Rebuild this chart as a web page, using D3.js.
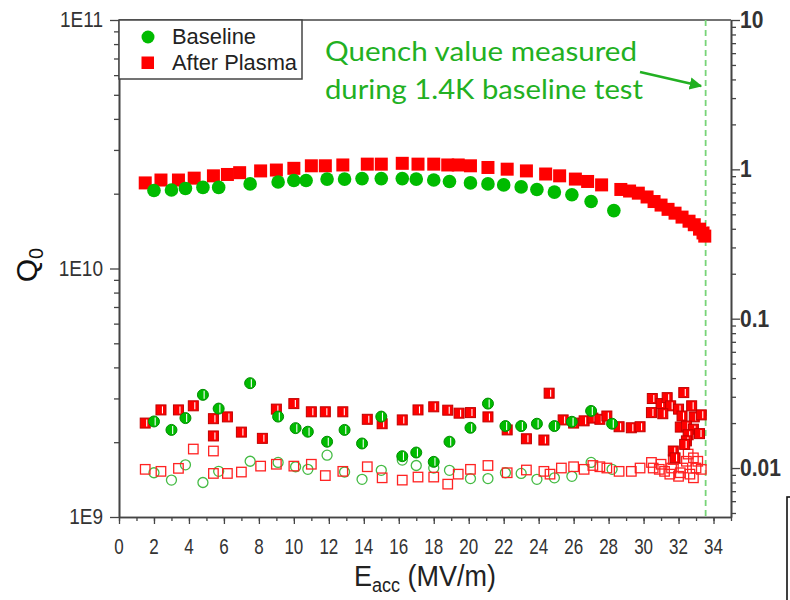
<!DOCTYPE html>
<html><head><meta charset="utf-8">
<script src="https://cdn.jsdelivr.net/npm/d3@7"></script>
<style>body{margin:0;background:#fff} svg{display:block}</style>
</head><body>
<svg id="c" width="790" height="600"></svg>
<script>
// ---- Data (E_acc in MV/m) ----
// Q0 (left axis)
const baselineQ = [[2.0,2.06e10],[3.0,2.07e10],[3.8,2.10e10],[4.8,2.12e10],[5.7,2.12e10],[7.5,2.19e10],[9.1,2.23e10],[10.0,2.26e10],[10.7,2.26e10],[11.9,2.29e10],[12.9,2.29e10],[13.9,2.30e10],[15.0,2.30e10],[16.2,2.30e10],[17.0,2.29e10],[18.0,2.27e10],[18.9,2.24e10],[20.1,2.21e10],[21.1,2.19e10],[22.0,2.17e10],[23.0,2.13e10],[23.9,2.08e10],[24.9,2.03e10],[25.9,1.98e10],[27.0,1.86e10],[28.3,1.71e10]];
const plasmaQ = [[1.5,2.21e10],[2.4,2.27e10],[3.4,2.27e10],[4.3,2.31e10],[5.4,2.36e10],[6.2,2.39e10],[6.9,2.43e10],[8.1,2.47e10],[9.0,2.49e10],[10.0,2.53e10],[11.0,2.59e10],[11.8,2.59e10],[12.8,2.61e10],[14.2,2.63e10],[15.0,2.63e10],[16.2,2.65e10],[17.1,2.63e10],[18.0,2.63e10],[18.8,2.61e10],[19.4,2.61e10],[20.1,2.59e10],[21.1,2.55e10],[22.2,2.51e10],[23.3,2.47e10],[24.4,2.40e10],[25.2,2.36e10],[26.1,2.29e10],[26.8,2.24e10],[27.6,2.17e10],[28.7,2.08e10],[29.2,2.05e10],[29.7,2.01e10],[30.2,1.94e10],[30.6,1.86e10],[31.0,1.80e10],[31.4,1.73e10],[31.8,1.67e10],[32.2,1.61e10],[32.6,1.55e10],[32.9,1.50e10],[33.2,1.44e10],[33.4,1.39e10],[33.5,1.35e10]];
// Right axis series
const baselineHalf = [[2.0,0.0205],[3.0,0.0180],[3.8,0.0216],[4.8,0.0309],[5.7,0.0250],[7.5,0.0370],[9.1,0.0221],[10.1,0.0185],[10.8,0.0175],[11.9,0.0150],[12.9,0.0180],[13.9,0.0146],[15.0,0.0221],[16.2,0.0120],[17.0,0.0127],[18.0,0.0110],[18.9,0.0150],[20.1,0.0186],[21.1,0.0270],[22.1,0.0191],[23.0,0.0191],[23.9,0.0198],[24.9,0.0191],[25.9,0.0204],[27.0,0.0241],[28.2,0.0198]];
const plasmaHalf = [[1.5,0.0200],[2.4,0.0245],[3.4,0.0245],[4.25,0.0261],[5.4,0.0214],[5.4,0.0164],[6.2,0.0220],[7.0,0.0174],[8.2,0.0158],[9.0,0.0248],[10.0,0.0270],[11.0,0.0238],[11.8,0.0238],[12.8,0.0238],[14.2,0.0212],[15.05,0.0198],[16.2,0.0210],[17.1,0.0245],[18.0,0.0257],[18.8,0.0244],[19.45,0.0233],[20.1,0.0235],[21.1,0.0220],[22.2,0.0180],[23.3,0.0157],[24.3,0.0154],[24.6,0.0317],[25.4,0.0210],[26.0,0.0200],[26.6,0.0207],[27.1,0.0216],[27.5,0.0212],[27.9,0.0223],[28.6,0.0189],[29.3,0.0186],[29.8,0.0189],[30.5,0.0292],[31.0,0.0270],[31.35,0.0296],[31.55,0.0261],[32.3,0.0320],[32.0,0.0248],[32.75,0.0261],[30.45,0.0235],[31.1,0.0231],[32.2,0.0223],[32.9,0.0220],[33.3,0.0227],[32.1,0.0188],[32.45,0.0191],[32.85,0.0182],[33.2,0.0170],[32.55,0.0167],[32.45,0.0152],[32.35,0.0144],[31.7,0.0130],[31.8,0.0117]];
const baselineOpen = [[2.0,0.0093],[3.0,0.0083],[3.8,0.0105],[4.8,0.0080],[5.7,0.0095],[7.5,0.0111],[9.1,0.0109],[10.1,0.0102],[10.8,0.0098],[11.9,0.0122],[12.9,0.0094],[13.9,0.0084],[15.0,0.00965],[16.2,0.0113],[17.0,0.0104],[18.0,0.0100],[18.9,0.00965],[20.1,0.0085],[21.1,0.0085],[22.1,0.0093],[23.0,0.0092],[23.9,0.0084],[24.9,0.0086],[25.9,0.0088],[27.0,0.0109],[28.2,0.0098]];
const plasmaOpen = [[1.5,0.0098],[2.4,0.0095],[3.4,0.00995],[4.25,0.0134],[5.4,0.0130],[5.4,0.0092],[6.2,0.0092],[7.0,0.0094],[8.1,0.0103],[9.0,0.0106],[10.0,0.0103],[11.0,0.0106],[11.8,0.0089],[12.8,0.0095],[14.2,0.0102],[15.05,0.0086],[16.2,0.0083],[17.1,0.0087],[18.0,0.0087],[18.8,0.0078],[19.4,0.0091],[20.1,0.0098],[21.1,0.0104],[22.2,0.0093],[23.3,0.0097],[24.3,0.0095],[24.65,0.0091],[25.3,0.0100],[26.0,0.0102],[26.6,0.0098],[27.1,0.0104],[27.5,0.0102],[27.9,0.0100],[28.6,0.0095],[29.3,0.0095],[29.8,0.0100],[30.45,0.0109],[30.55,0.0100],[30.9,0.0098],[31.0,0.0106],[31.2,0.0095],[31.5,0.0091],[31.6,0.0100],[31.7,0.0114],[32.0,0.0088],[32.1,0.0093],[32.25,0.0100],[32.45,0.0111],[32.55,0.0124],[32.65,0.0091],[32.85,0.0086],[32.85,0.0117],[33.0,0.0100],[33.1,0.0111],[33.3,0.0098]];
const quenchE = 33.55;
const xTicks = d3.range(0, 35, 2);
const xMinor = d3.range(0, 36, 1);
const leftMajor = [1e9, 1e10, 1e11];
const leftLabels = ["1E9", "1E10", "1E11"];
const rightMajor = [0.01, 0.1, 1, 10];
const rightLabels = ["0.01", "0.1", "1", "10"];
const legendNames = ["Baseline", "After Plasma"];
const noteLines = ["Quench value measured", "during 1.4K baseline test"];

// ---- Layout ----
const L = 119, R = 731, T = 20, B = 517;
const svg = d3.select("#c");
const x = d3.scaleLinear().domain([0, 35]).range([L, R]);
const yL = d3.scaleLog().domain([1e9, 1e11]).range([B, T]);
const yR = d3.scaleLog().domain([0.0047, 10]).range([B, T]);

const GREEN = "#00bb00", RED = "#ff0000";
const axisCol = "#444";
const font = "'Liberation Sans', Arial, sans-serif";

function minorLog(lo, hi) {
  const out = [];
  for (let e = Math.floor(Math.log10(lo)); e <= Math.ceil(Math.log10(hi)); e++)
    for (let m = 2; m <= 9; m++) { const v = m * Math.pow(10, e); if (v > lo && v < hi) out.push(v); }
  return out;
}

// Axes
function styleAxis(g) { g.select(".domain").attr("stroke", axisCol).attr("stroke-width", 1.6); g.selectAll(".tick line").attr("stroke", axisCol).attr("stroke-width", 1.3); g.selectAll("text").remove(); }
svg.append("g").attr("transform", `translate(0,${B})`).call(d3.axisBottom(x).tickValues(xMinor).tickSize(4).tickSizeOuter(0)).call(styleAxis);
svg.append("g").attr("transform", `translate(0,${B})`).call(d3.axisBottom(x).tickValues(xTicks).tickSize(7).tickSizeOuter(0)).call(styleAxis);
svg.append("g").attr("transform", `translate(${L},0)`).call(d3.axisLeft(yL).tickValues(minorLog(1e9, 1e11)).tickSize(5).tickSizeOuter(0)).call(styleAxis);
svg.append("g").attr("transform", `translate(${L},0)`).call(d3.axisLeft(yL).tickValues(leftMajor).tickSize(9).tickSizeOuter(0)).call(styleAxis);
svg.append("g").attr("transform", `translate(${R},0)`).call(d3.axisRight(yR).tickValues(minorLog(0.0047, 10)).tickSize(5).tickSizeOuter(0)).call(styleAxis);
svg.append("g").attr("transform", `translate(${R},0)`).call(d3.axisRight(yR).tickValues(rightMajor).tickSize(9).tickSizeOuter(0)).call(styleAxis);
svg.append("line").attr("x1", L).attr("x2", R).attr("y1", T).attr("y2", T).attr("stroke", axisCol).attr("stroke-width", 1.6);

// Tick labels
svg.append("g").selectAll("text").data(xTicks).join("text")
  .attr("transform", d => `translate(${x(d)},554) scale(1,1.3)`).attr("text-anchor", "middle")
  .attr("font-family", font).attr("font-size", 17).attr("fill", "#333").text(d => d);
svg.append("g").selectAll("text").data(leftMajor).join("text")
  .attr("transform", (d) => `translate(103,${yL(d) + 7}) scale(1,1.15)`).attr("text-anchor", "end")
  .attr("font-family", font).attr("font-size", 19).attr("fill", "#333").text((d, i) => leftLabels[i]);
svg.append("g").selectAll("text").data(rightMajor).join("text")
  .attr("transform", (d) => `translate(740,${yR(d) + 8}) scale(1,1.1)`).attr("text-anchor", "start")
  .attr("font-family", font).attr("font-size", 21).attr("font-weight", "bold").attr("fill", "#333").text((d, i) => rightLabels[i]);

// Axis titles
const xt = svg.append("text").attr("transform", `translate(425,586) scale(1,1.1)`).attr("text-anchor", "middle")
  .attr("font-family", font).attr("font-size", 27).attr("fill", "#222");
xt.append("tspan").text("E");
xt.append("tspan").attr("font-size", 18).attr("dy", 5).text("acc");
xt.append("tspan").attr("dy", -5).text(" (MV/m)");
const yt = svg.append("text").attr("transform", `translate(37,265) rotate(-90)`).attr("text-anchor", "middle")
  .attr("font-family", font).attr("font-size", 30).attr("fill", "#111");
yt.append("tspan").text("Q");
yt.append("tspan").attr("font-size", 20).attr("dy", 6).text("0");

// Quench dashed line
svg.append("line").attr("x1", x(quenchE)).attr("x2", x(quenchE)).attr("y1", T).attr("y2", B)
  .attr("stroke", "#77d477").attr("stroke-width", 1.8).attr("stroke-dasharray", "6,4");

// Markers
const plot = svg.append("g");
function openSquares(data, s, col) {
  plot.append("g").selectAll("rect").data(data).join("rect")
    .attr("x", d => x(d[0]) - s / 2).attr("y", d => yR(d[1]) - s / 2).attr("width", s).attr("height", s)
    .attr("fill", "none").attr("stroke", col).attr("stroke-width", 1.3);
}
function openCircles(data, r, col) {
  plot.append("g").selectAll("circle").data(data).join("circle")
    .attr("cx", d => x(d[0])).attr("cy", d => yR(d[1])).attr("r", r)
    .attr("fill", "none").attr("stroke", col).attr("stroke-width", 1.3);
}
function halfSquares(data, s, col) {
  const g = plot.append("g").selectAll("g").data(data).join("g").attr("transform", d => `translate(${x(d[0])},${yR(d[1])})`);
  g.append("rect").attr("x", -s / 2).attr("y", -s / 2).attr("width", s).attr("height", s).attr("fill", col).attr("stroke", d3.color(col).darker(0.8)).attr("stroke-width", 1);
  g.append("line").attr("x1", 1.5).attr("x2", 1.5).attr("y1", -s / 2 + 1.5).attr("y2", s / 2 - 1.5).attr("stroke", "#fff").attr("stroke-width", 1.1);
}
function halfCircles(data, r, col) {
  const g = plot.append("g").selectAll("g").data(data).join("g").attr("transform", d => `translate(${x(d[0])},${yR(d[1])})`);
  g.append("circle").attr("r", r).attr("fill", col).attr("stroke", d3.color(col).darker(0.8)).attr("stroke-width", 1);
  g.append("line").attr("x1", 1.2).attr("x2", 1.2).attr("y1", -r + 1.5).attr("y2", r - 1.5).attr("stroke", "#fff").attr("stroke-width", 1.1);
}
openCircles(baselineOpen, 5, "#44bb44");
openSquares(plasmaOpen, 9.5, "#ff2222");
halfSquares(plasmaHalf, 10, RED);
halfCircles(baselineHalf, 5.5, GREEN);

plot.append("g").selectAll("rect").data(plasmaQ).join("rect")
  .attr("x", d => x(d[0]) - 6.5).attr("y", d => yL(d[1]) - 6.5).attr("width", 13).attr("height", 13).attr("fill", RED);
plot.append("g").selectAll("circle").data(baselineQ).join("circle")
  .attr("cx", d => x(d[0])).attr("cy", d => yL(d[1])).attr("r", 6.8).attr("fill", GREEN);

// Legend
const lg = svg.append("g");
lg.append("rect").attr("x", L).attr("y", T).attr("width", 183).attr("height", 59).attr("fill", "#fff").attr("stroke", "#444").attr("stroke-width", 1.5);
lg.append("circle").attr("cx", 148).attr("cy", 37).attr("r", 6.5).attr("fill", GREEN);
lg.append("rect").attr("x", 141.5).attr("y", 56.5).attr("width", 12.5).attr("height", 12.5).attr("fill", RED);
lg.selectAll("text").data(legendNames).join("text")
  .attr("transform", (d, i) => `translate(172,${44 + i * 26}) scale(1,1.1)`)
  .attr("font-family", font).attr("font-size", 20).attr("fill", "#222")
  .attr("textLength", (d, i) => i ? 125 : 84).attr("lengthAdjust", "spacingAndGlyphs").text(d => d);

// Annotation
const NOTE = "#22b022";
svg.append("g").selectAll("text").data(noteLines).join("text")
  .attr("x", 325).attr("y", (d, i) => 61 + i * 38)
  .attr("font-family", "Lato, 'Open Sans', sans-serif").attr("font-size", 26).attr("fill", NOTE)
  .attr("textLength", (d, i) => i ? 318 : 312).attr("lengthAdjust", "spacingAndGlyphs").text(d => d);
svg.append("defs").append("marker").attr("id", "ah").attr("viewBox", "0 0 10 10").attr("refX", 9).attr("refY", 5)
  .attr("markerWidth", 5).attr("markerHeight", 5).attr("orient", "auto")
  .append("path").attr("d", "M0,0L10,5L0,10z").attr("fill", NOTE);
svg.append("line").attr("x1", 640).attr("y1", 72).attr("x2", 701).attr("y2", 86)
  .attr("stroke", NOTE).attr("stroke-width", 2.5).attr("marker-end", "url(#ah)");

// Cropped box at bottom right
svg.append("rect").attr("x", 787).attr("y", 497).attr("width", 30).attr("height", 130).attr("fill", "none").attr("stroke", "#111").attr("stroke-width", 1.6);
</script>
</body></html>
